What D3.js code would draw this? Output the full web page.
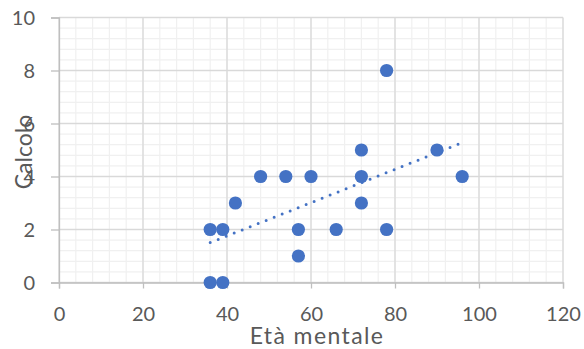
<!DOCTYPE html>
<html>
<head>
<meta charset="utf-8">
<script src="https://cdn.jsdelivr.net/npm/d3@7"></script>
<style>
  html, body { margin: 0; padding: 0; background: #fff; }
  svg { display: block; font-family: Lato, "Open Sans", sans-serif; }
</style>
</head>
<body>
<svg id="chart" width="584" height="349"></svg>
<script>
// Età mentale vs. Calcolo
const etaMentale = [36, 39, 36, 39, 42, 48, 54, 57, 57, 60, 66, 72, 72, 72, 78, 78, 90, 96];
const calcolo    = [ 0,  0,  2,  2,  3,  4,  4,  2,  1,  4,  2,  5,  4,  3,  8,  2,  5,  4];
const xTicks = [0, 20, 40, 60, 80, 100, 120];
const yTicks = [0, 2, 4, 6, 8, 10];
const xTitle = "Età mentale";
const yTitle = "Calcolo";

const points = etaMentale.map((x, i) => ({ x, y: calcolo[i] }));

const svg = d3.select("#chart");
const plotLeft = 59, plotRight = 563, plotTop = 17.5, plotBottom = 282.5;

const x = d3.scaleLinear().domain([0, 120]).range([plotLeft, plotRight]);
const y = d3.scaleLinear().domain([0, 10]).range([plotBottom, plotTop]);

// minor grid
const minorX = d3.range(0, 120.001, 4);
const minorY = d3.range(0, 10.001, 0.4);
const grid = svg.append("g");
grid.selectAll(".mx").data(minorX).join("line")
  .attr("x1", d => x(d)).attr("x2", d => x(d))
  .attr("y1", plotTop).attr("y2", plotBottom)
  .attr("stroke", "#f0f0f0").attr("stroke-width", 1.2);
grid.selectAll(".my").data(minorY).join("line")
  .attr("x1", plotLeft).attr("x2", plotRight)
  .attr("y1", d => y(d)).attr("y2", d => y(d))
  .attr("stroke", "#f0f0f0").attr("stroke-width", 1.2);

// major grid
grid.selectAll(".Mx").data(xTicks).join("line")
  .attr("x1", d => x(d)).attr("x2", d => x(d))
  .attr("y1", plotTop).attr("y2", plotBottom)
  .attr("stroke", "#d9d9d9").attr("stroke-width", 1.3);
grid.selectAll(".My").data(yTicks).join("line")
  .attr("x1", plotLeft).attr("x2", plotRight)
  .attr("y1", d => y(d)).attr("y2", d => y(d))
  .attr("stroke", "#d9d9d9").attr("stroke-width", 1.3);

// axes
const xAxis = svg.append("g")
  .attr("transform", `translate(0,${plotBottom})`)
  .call(d3.axisBottom(x).tickValues(xTicks).tickSize(6).tickPadding(18.5));
const yAxis = svg.append("g")
  .attr("transform", `translate(${plotLeft},0)`)
  .call(d3.axisLeft(y).tickValues(yTicks).tickSize(8).tickPadding(16));
[xAxis, yAxis].forEach(g => {
  g.select(".domain").attr("stroke", "#bfbfbf").attr("stroke-width", 1.3);
  g.selectAll(".tick line").attr("stroke", "#bfbfbf").attr("stroke-width", 1.3);
  g.selectAll(".tick text")
    .attr("fill", "#595959")
    .style("font-size", "20px")
    .style("font-family", "Lato, 'Open Sans', sans-serif");
});
yAxis.selectAll(".tick text").attr("dy", "0.35em");

// trendline (least squares)
const mx = d3.mean(etaMentale), my = d3.mean(calcolo);
const slope = d3.sum(points, p => (p.x - mx) * (p.y - my)) / d3.sum(points, p => (p.x - mx) ** 2);
const intercept = my - slope * mx;
const xr = d3.extent(etaMentale);
svg.append("line")
  .attr("x1", x(xr[0])).attr("y1", y(intercept + slope * xr[0]))
  .attr("x2", x(xr[1])).attr("y2", y(intercept + slope * xr[1]))
  .attr("stroke", "#4472c4").attr("stroke-width", 3)
  .attr("stroke-linecap", "round")
  .attr("stroke-dasharray", "0 8.6");

// points
svg.append("g").selectAll("circle").data(points).join("circle")
  .attr("cx", d => x(d.x)).attr("cy", d => y(d.y))
  .attr("r", 6.6).attr("fill", "#4472c4");

// axis titles
svg.append("text")
  .attr("x", 317).attr("y", 344)
  .attr("text-anchor", "middle")
  .attr("fill", "#595959")
  .style("font-size", "23px")
  .style("letter-spacing", "1.4px")
  .text(xTitle);
svg.append("text")
  .attr("transform", "translate(32,152) rotate(-90)")
  .attr("text-anchor", "middle")
  .attr("fill", "#595959")
  .style("font-size", "23px")
  .text(yTitle);
</script>
</body>
</html>
